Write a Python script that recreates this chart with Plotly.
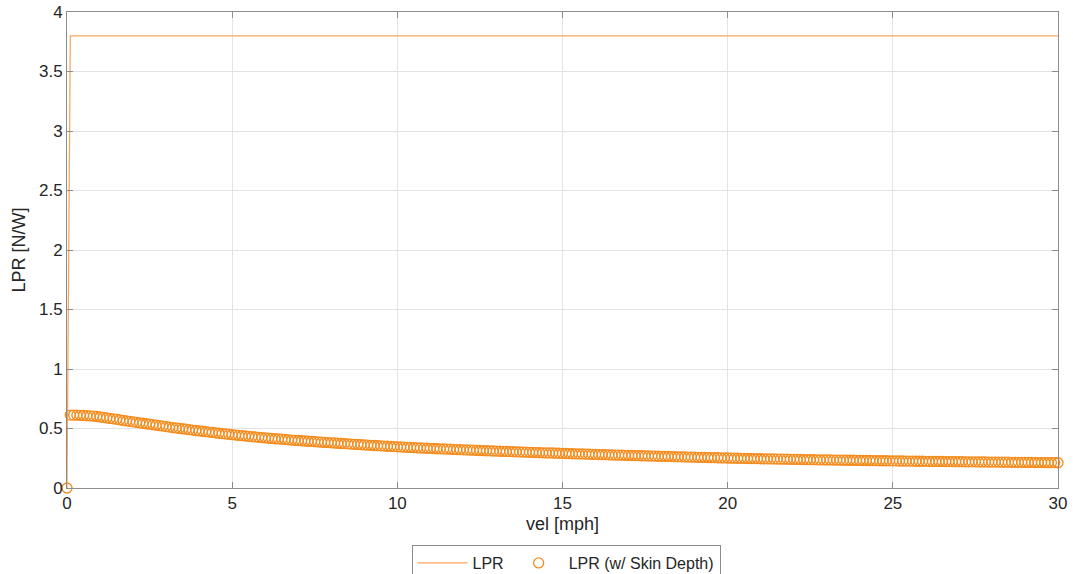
import numpy as np
import plotly.graph_objects as go

# LPR (plain) line: steps from 0 up to 3.8 almost immediately
vel_lpr = [0.0, 0.1, 30.0]
lpr = [0.0, 3.8, 3.8]

vel_skin = np.round(np.linspace(0, 30, 301), 1)
lpr_skin = [
    0.000, 0.613, 0.613, 0.612, 0.611, 0.610, 0.608, 0.606, 0.604, 0.601,
    0.597, 0.593, 0.589, 0.585, 0.581, 0.577, 0.573, 0.568, 0.564, 0.560,
    0.556, 0.552, 0.548, 0.544, 0.540, 0.536, 0.532, 0.528, 0.524, 0.520,
    0.516, 0.512, 0.508, 0.505, 0.501, 0.498, 0.494, 0.490, 0.487, 0.483,
    0.480, 0.477, 0.473, 0.470, 0.467, 0.464, 0.460, 0.457, 0.454, 0.451,
    0.448, 0.445, 0.442, 0.440, 0.437, 0.434, 0.432, 0.429, 0.426, 0.424,
    0.421, 0.419, 0.417, 0.414, 0.412, 0.410, 0.408, 0.405, 0.403, 0.401,
    0.399, 0.397, 0.395, 0.393, 0.391, 0.389, 0.387, 0.385, 0.383, 0.382,
    0.380, 0.378, 0.376, 0.374, 0.373, 0.371, 0.369, 0.367, 0.366, 0.364,
    0.362, 0.360, 0.359, 0.357, 0.356, 0.354, 0.352, 0.351, 0.349, 0.348,
    0.346, 0.345, 0.343, 0.342, 0.341, 0.339, 0.338, 0.337, 0.335, 0.334,
    0.333, 0.332, 0.330, 0.329, 0.328, 0.327, 0.326, 0.324, 0.323, 0.322,
    0.321, 0.320, 0.319, 0.318, 0.316, 0.315, 0.314, 0.313, 0.312, 0.311,
    0.310, 0.309, 0.308, 0.307, 0.306, 0.305, 0.304, 0.303, 0.302, 0.301,
    0.300, 0.299, 0.298, 0.297, 0.296, 0.295, 0.295, 0.294, 0.293, 0.292,
    0.291, 0.290, 0.289, 0.288, 0.287, 0.286, 0.286, 0.285, 0.284, 0.283,
    0.282, 0.281, 0.280, 0.280, 0.279, 0.278, 0.277, 0.276, 0.276, 0.275,
    0.274, 0.273, 0.272, 0.272, 0.271, 0.270, 0.269, 0.268, 0.268, 0.267,
    0.266, 0.265, 0.265, 0.264, 0.263, 0.262, 0.262, 0.261, 0.260, 0.260,
    0.259, 0.258, 0.257, 0.257, 0.256, 0.255, 0.255, 0.254, 0.253, 0.253,
    0.252, 0.251, 0.251, 0.250, 0.249, 0.249, 0.248, 0.248, 0.247, 0.247,
    0.246, 0.245, 0.245, 0.244, 0.244, 0.243, 0.243, 0.242, 0.242, 0.241,
    0.241, 0.240, 0.240, 0.239, 0.239, 0.238, 0.238, 0.237, 0.237, 0.236,
    0.236, 0.236, 0.235, 0.235, 0.234, 0.234, 0.233, 0.233, 0.233, 0.232,
    0.232, 0.231, 0.231, 0.231, 0.230, 0.230, 0.229, 0.229, 0.229, 0.228,
    0.228, 0.228, 0.227, 0.227, 0.226, 0.226, 0.226, 0.225, 0.225, 0.225,
    0.224, 0.224, 0.224, 0.223, 0.223, 0.223, 0.222, 0.222, 0.222, 0.221,
    0.221, 0.221, 0.220, 0.220, 0.220, 0.220, 0.219, 0.219, 0.219, 0.218,
    0.218, 0.218, 0.218, 0.217, 0.217, 0.217, 0.216, 0.216, 0.216, 0.216,
    0.215, 0.215, 0.215, 0.214, 0.214, 0.214, 0.214, 0.213, 0.213, 0.213,
    0.212,
]

x_ticks = [0, 5, 10, 15, 20, 25, 30]
y_ticks = [0, 0.5, 1, 1.5, 2, 2.5, 3, 3.5, 4]
y_tick_text = ["0", "0.5", "1", "1.5", "2", "2.5", "3", "3.5", "4"]

FONT = "Liberation Sans, Arial, Helvetica, sans-serif"

fig = go.Figure()
fig.add_trace(go.Scatter(
    x=vel_lpr, y=lpr, mode="lines", name="LPR",
    line=dict(color="#F9A75E", width=1.3),
))
fig.add_trace(go.Scatter(
    x=vel_skin, y=lpr_skin, mode="markers", name="LPR (w/ Skin Depth)",
    marker=dict(symbol="circle-open", size=10, color="#F48B1C",
                line=dict(width=1.3, color="#F48B1C")),
    cliponaxis=False,
))

axis_common = dict(
    showline=True, linecolor="#8C8C8C", linewidth=1, mirror="allticks",
    ticks="inside", ticklen=6, tickcolor="#8C8C8C",
    showgrid=True, gridcolor="#E3E3E3", gridwidth=1,
    zeroline=False, automargin=False,
    tickfont=dict(family=FONT, size=17, color="#262626"),
)

fig.update_layout(
    width=1073, height=574,
    margin=dict(l=67, r=15, t=12, b=86),
    paper_bgcolor="white", plot_bgcolor="white",
    font=dict(family=FONT, color="#262626"),
    xaxis=dict(
        range=[0, 30], tickmode="array", tickvals=x_ticks,
        title=dict(text="vel [mph]", font=dict(family=FONT, size=18, color="#262626"), standoff=4),
        **axis_common,
    ),
    yaxis=dict(
        range=[0, 4], tickmode="array", tickvals=y_ticks, ticktext=y_tick_text,
        title=dict(text="LPR [N/W]", font=dict(family=FONT, size=18, color="#262626"), standoff=8),
        **axis_common,
    ),
    legend=dict(
        orientation="h", xref="container", yref="container",
        x=0.5275, xanchor="center", y=0.0505, yanchor="top",
        bordercolor="#8C8C8C", borderwidth=1, bgcolor="white",
        font=dict(family=FONT, size=16, color="#262626"),
        itemwidth=50, tracegroupgap=0,
    ),
)

fig.write_html("out.html")
